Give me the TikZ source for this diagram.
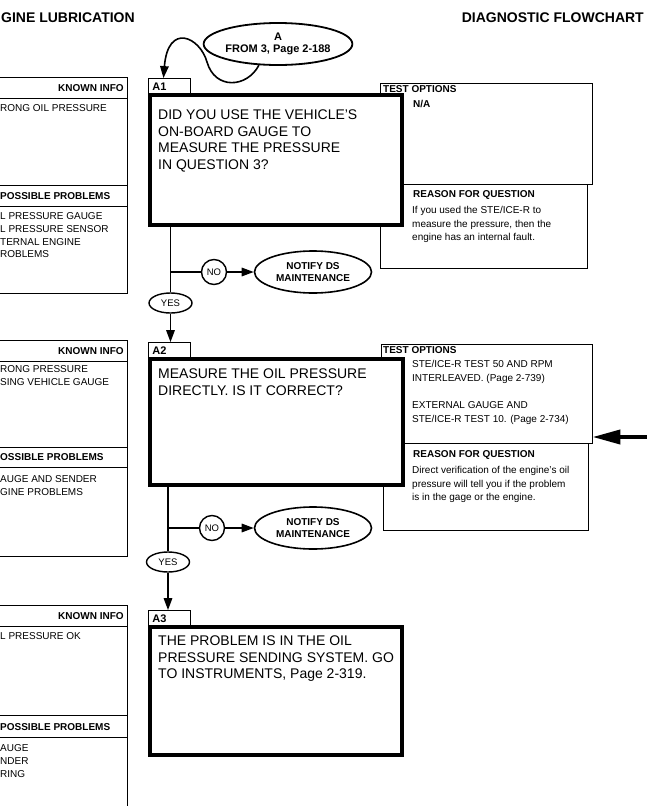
\documentclass[tikz,border=0pt]{standalone}
\usepackage{fontspec}
\setmainfont{Liberation Sans}
\usetikzlibrary{arrows.meta,positioning,shapes.geometric}

\begin{document}
\begin{tikzpicture}[x=1pt, y=-1pt, >={Triangle[length=12pt,width=8.5pt]},
   rule/.style={line width=0.9pt},
   ttl/.style={inner sep=0pt, font=\fontsize{14}{15}\selectfont\bfseries},
   hdr/.style={inner sep=0pt, font=\fontsize{10}{12}\selectfont\bfseries},
   info/.style={inner sep=0pt, align=left, font=\fontsize{10}{12.7}\selectfont},
   note/.style={inner sep=0pt, align=left, font=\fontsize{10}{13.5}\selectfont},
   ask/.style={inner sep=0pt, align=left, font=\fontsize{14}{16.5}\selectfont},
   qbox/.style={draw, line width=4pt, fill=white, inner sep=0pt},
   tbox/.style={draw, line width=0.9pt, inner sep=0pt},
   qtag/.style={draw, line width=0.9pt, anchor=south west, text width=34pt,
                inner xsep=4pt, inner ysep=0pt, minimum height=17pt,
                font=\fontsize{11}{12}\selectfont\bfseries},
   flow/.style={line width=1.6pt},
   ans/.style={draw, ellipse, line width=1.4pt, inner sep=0pt, minimum width=43pt,
               minimum height=20pt, font=\fontsize{9.5}{10}\selectfont},
   nope/.style={draw, circle, line width=1.4pt, inner sep=0pt, minimum size=25pt,
                font=\fontsize{9.5}{10}\selectfont},
   notify/.style={draw, ellipse, line width=1.6pt, inner sep=0pt, minimum width=117pt,
                  minimum height=42pt, align=center, font=\fontsize{10}{12}\selectfont\bfseries},
   goarrow/.style={line width=4pt, -{Triangle[length=28pt,width=14pt]}}]
  \useasboundingbox (0,0) rectangle (647,806);
  \clip (0,0) rectangle (647,806);

  % headings
  \node[ttl, anchor=north west] (sect) at (1,13) {GINE LUBRICATION};
  \node[ttl, anchor=north east] (kind) at (644,13) {DIAGNOSTIC FLOWCHART};
  \node[draw, ellipse, line width=1.8pt, minimum width=120pt, minimum height=42pt,
        inner sep=0pt, align=center, font=\fontsize{11}{12.5}\selectfont\bfseries]
        (from) at (278,44) {A\\FROM 3, Page 2-188};

  % left column
  \draw[rule] (-10,77) rectangle (127,293) (-10,98) -- (127,98)
              (-10,185) -- (127,185) (-10,206) -- (127,206);
  \node[hdr] (k1) at (91,88) {KNOWN INFO};
  \node[info, anchor=west] (k1t) at (0,108) {RONG OIL PRESSURE};
  \node[hdr, anchor=west] (p1) at (0,196) {POSSIBLE PROBLEMS};
  \node[info, anchor=north west] (p1t) at (0,212.5)
       {L PRESSURE GAUGE\\L PRESSURE SENSOR\\TERNAL ENGINE\\ROBLEMS};

  \draw[rule] (-10,340) rectangle (127,556) (-10,361) -- (127,361)
              (-10,447) -- (127,447) (-10,467) -- (127,467);
  \node[hdr] (k2) at (91,351) {KNOWN INFO};
  \node[info, anchor=north west] (k2t) at (0,365.5) {RONG PRESSURE\\SING VEHICLE GAUGE};
  \node[hdr, anchor=west] (p2) at (0,457) {OSSIBLE PROBLEMS};
  \node[info, anchor=north west] (p2t) at (0,475.5) {AUGE AND SENDER\\GINE PROBLEMS};

  \draw[rule] (-10,605) rectangle (127,820) (-10,626) -- (127,626)
              (-10,715) -- (127,715) (-10,737) -- (127,737);
  \node[hdr] (k3) at (91,616) {KNOWN INFO};
  \node[info, anchor=west] (k3t) at (0,636) {L PRESSURE OK};
  \node[hdr, anchor=west] (p3) at (0,727) {POSSIBLE PROBLEMS};
  \node[info, anchor=north west] (p3t) at (0,744.5) {AUGE\\NDER\\RING};

  % side boxes
  \node[tbox, minimum width=212pt, minimum height=101pt] (to1) at (486,133.5) {};
  \node[tbox, minimum width=207pt, minimum height=84pt] (rq1) at (483.5,226) {};
  \node[hdr, anchor=west] (to1h) at (383,89) {TEST OPTIONS};
  \node[hdr, anchor=west] (to1t) at (413,104) {N/A};
  \node[hdr, anchor=west] (rq1h) at (413,195) {REASON FOR QUESTION};
  \node[note, anchor=north west] (rq1t) at (412,206.5)
       {If you used the STE/ICE-R to\\measure the pressure, then the\\engine has an internal fault.};

  \node[tbox, minimum width=211pt, minimum height=99pt] (to2) at (486.5,393.5) {};
  \node[tbox, minimum width=205pt, minimum height=87pt] (rq2) at (485.5,486.5) {};
  \node[hdr, anchor=west] (to2h) at (383,350) {TEST OPTIONS};
  \node[note, anchor=north west] (to2t) at (412,360.5)
       {STE/ICE-R TEST 50 AND RPM\\INTERLEAVED. (Page 2-739)\\[14pt]EXTERNAL GAUGE AND\\STE/ICE-R TEST 10. (Page 2-734)};
  \node[hdr, anchor=west] (rq2h) at (413,455) {REASON FOR QUESTION};
  \node[note, anchor=north west] (rq2t) at (412,466.5)
       {Direct verification of the engine's oil\\pressure will tell you if the problem\\is in the gage or the engine.};

  % question boxes
  \node[qtag] (l1) at (148,96) {A1};
  \node[qbox, minimum width=252pt, minimum height=130pt] (q1) at (276,160) {};
  \node[ask, anchor=north west] (q1t) at (158,110)
       {DID YOU USE THE VEHICLE'S\\ON-BOARD GAUGE TO\\MEASURE THE PRESSURE\\IN QUESTION 3?};

  \node[qtag] (l2) at (148,360) {A2};
  \node[qbox, minimum width=253pt, minimum height=126pt] (q2) at (276.5,422) {};
  \node[ask, anchor=north west] (q2t) at (158,369)
       {MEASURE THE OIL PRESSURE\\DIRECTLY. IS IT CORRECT?};

  \node[qtag] (l3) at (148,628) {A3};
  \node[qbox, minimum width=252pt, minimum height=128pt] (q3) at (276,691) {};
  \node[ask, anchor=north west] (q3t) at (158,636)
       {THE PROBLEM IS IN THE OIL\\PRESSURE SENDING SYSTEM. GO\\TO INSTRUMENTS, Page 2-319.};

  % answers
  \node[ans] (yes1) at (170.5,303) {YES};
  \node[nope] (no1) at (214,272) {NO};
  \node[notify] (nt1) at (313,272) {NOTIFY DS\\MAINTENANCE};
  \node[ans] (yes2) at (168,562) {YES};
  \node[nope] (no2) at (212,528) {NO};
  \node[notify] (nt2) at (313,528) {NOTIFY DS\\MAINTENANCE};

  % connectors
  \draw[flow,->] (from.228) .. controls (247,88) and (215,90) .. (207,62)
                 .. controls (200,37) and (168,22) .. ([xshift=-6pt]l1.north);
  \draw[flow] (yes1 |- q1.south) -- (yes1.north);
  \draw[flow] (yes1 |- no1) -- (no1.west);
  \draw[flow,->] (no1.east) -- (nt1.west);
  \draw[flow,->] (yes1.south) -- (yes1 |- l2.north);
  \draw[flow] (yes2 |- q2.south) -- (yes2.north);
  \draw[flow] (yes2 |- no2) -- (no2.west);
  \draw[flow,->] (no2.east) -- (nt2.west);
  \draw[flow,->] (yes2.south) -- (yes2 |- l3.north);
  \coordinate (rim) at (652,437);
  \draw[goarrow] (rim) -- (to2.east |- rim);
\end{tikzpicture}
\end{document}
